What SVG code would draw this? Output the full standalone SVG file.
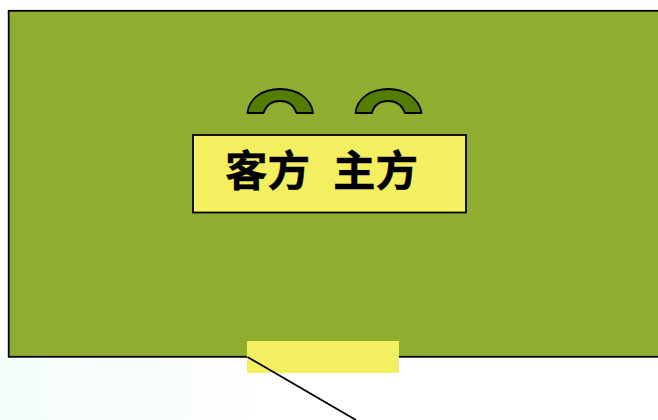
<svg xmlns="http://www.w3.org/2000/svg" width="658" height="420" viewBox="0 0 658 420">
<defs>
<linearGradient id="haze" x1="0" y1="0" x2="1" y2="0">
<stop offset="0" stop-color="#f4fdfb"/>
<stop offset="0.6" stop-color="#f9fdfc"/>
<stop offset="1" stop-color="#ffffff"/>
</linearGradient>
</defs>
<style>
.edge{fill:none;stroke:#000;stroke-width:1.8}
.arch{fill:#527d00;stroke:#000;stroke-width:1.8;stroke-linejoin:round}
.label{font-family:"Noto Sans CJK SC","Noto Sans CJK JP",sans-serif;font-size:42.500px;font-weight:700;fill:#000;stroke:#000;stroke-width:.4}
</style>
<rect x="0" y="358" width="260" height="62" fill="url(#haze)"/>
<g id="panel"><rect x="8.700" y="10.800" width="660" height="346" fill="#90ad2f" stroke="#000" stroke-width="1.800"/></g>
<g id="arch-left"><path class="arch" d="M247.500 113C249 98 263 89 280 89C297 89 311 98 313 113H296.500C294 105 288 101 280 101C272 101 266 105 263.500 113Z"/></g>
<g id="arch-right"><path class="arch" d="M355.500 113C357 98 371 89 388.500 89C405 89 419 98 421.500 113H405C402 105 396 101 388.500 101C380 101 374 105 372 113Z"/></g>
<g id="label-box"><rect x="193" y="135" width="273" height="77.500" fill="#f4ef60" stroke="#000" stroke-width="1.800"/>
<text class="label" x="225" y="186">客方</text><text class="label" x="333" y="186">主方</text></g>
<g id="tab"><rect x="247" y="341" width="152" height="32" fill="#f4ef60"/></g>
<g id="connectors"><path class="edge" d="M247.500 357L356 420"/></g>
</svg>
